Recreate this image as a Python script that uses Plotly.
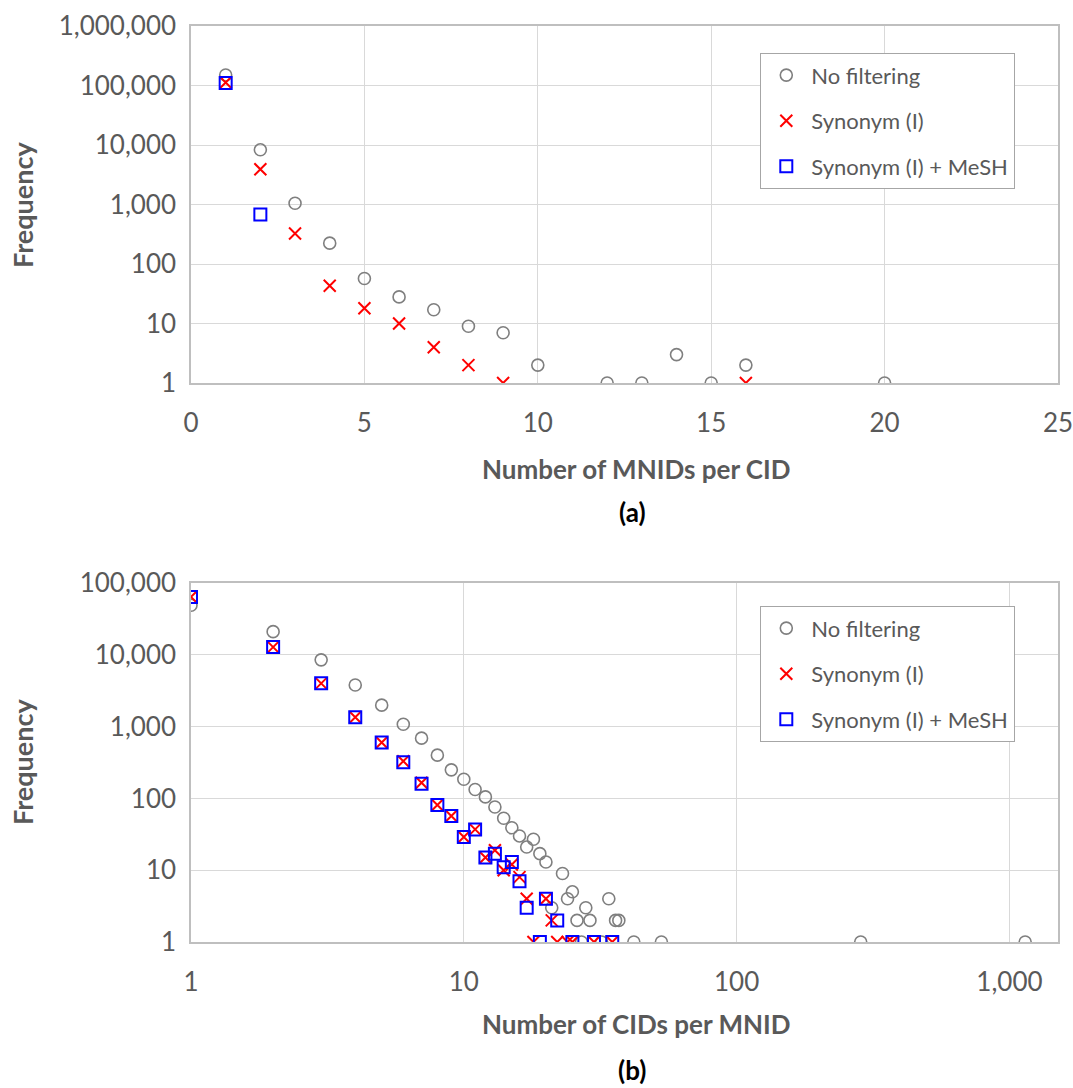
import plotly.graph_objects as go

# ---------------- Data ----------------
# Panel (a): Number of MNIDs per CID
a_nf_x = [1, 2, 3, 4, 5, 6, 7, 8, 9, 10, 12, 13, 14, 15, 16, 20]
a_nf_y = [150000, 8300, 1050, 224, 57, 28, 17, 9, 7, 2, 1, 1, 3, 1, 2, 1]
a_syn_x = [1, 2, 3, 4, 5, 6, 7, 8, 9, 16]
a_syn_y = [112000, 3900, 325, 43, 18, 10, 4, 2, 1, 1]
a_mesh_x = [1, 2]
a_mesh_y = [110000, 680]

# Panel (b): Number of CIDs per MNID
b_nf_x = [1, 2, 3, 4, 5, 6, 7, 8, 9, 10, 11, 12, 13, 14, 15, 16, 17, 18, 19, 20,
          21, 23, 24, 25, 26, 27, 28, 29, 32, 34, 36, 37, 42, 53, 285, 1142]
b_nf_y = [49000, 21000, 8500, 3800, 1990, 1080, 690, 400, 250, 185, 133, 105, 76, 53, 39, 30, 21, 27, 17, 13,
          3, 9, 4, 5, 2, 1, 3, 2, 1, 4, 2, 2, 1, 1, 1, 1]
b_syn_x = [1, 2, 3, 4, 5, 6, 7, 8, 9, 10, 11, 12, 13, 14, 15, 16, 17, 18, 20, 21, 22, 24, 25, 30, 35]
b_syn_y = [64000, 12800, 4000, 1350, 600, 330, 165, 81, 57, 29, 37, 15, 19, 10, 12, 8, 4, 1, 4, 2, 1, 1, 1, 1, 1]
b_mesh_x = [1, 2, 3, 4, 5, 6, 7, 8, 9, 10, 11, 12, 13, 14, 15, 16, 17, 19, 20, 22, 25, 30, 35]
b_mesh_y = [64000, 12800, 4000, 1350, 600, 320, 160, 81, 57, 29, 37, 15, 17, 11, 13, 7, 3, 1, 4, 2, 1, 1, 1]

series_names = ["No filtering", "Synonym (I)", "Synonym (I) + MeSH"]
y_tickvals = [1, 10, 100, 1000, 10000, 100000, 1000000]
y_ticktext = ["1", "10", "100", "1,000", "10,000", "100,000", "1,000,000"]
ax_tickvals = [0, 5, 10, 15, 20, 25]
bx_tickvals = [1, 10, 100, 1000]
bx_ticktext = ["1", "10", "100", "1,000"]

# ---------------- Styling ----------------
W, H = 1073, 1088
FONT = "Lato"
TXT = "#595959"
GRID = "#d9d9d9"
LINE = "#bfbfbf"

def px_x(p):
    return p / W

def px_y(p):
    return 1 - p / H

circle = dict(symbol="circle-open", size=12, color="#7f7f7f", line=dict(width=1.6, color="#7f7f7f"))
cross = dict(symbol="x-thin-open", size=12, color="#ff0000", line=dict(width=2, color="#ff0000"))
square = dict(symbol="square-open", size=12, color="#0000ff", line=dict(width=2, color="#0000ff"))

fig = go.Figure()

def add_panel(xs, ys, xa, ya, leg):
    styles = [circle, cross, square]
    for i, (x, y) in enumerate(zip(xs, ys)):
        fig.add_trace(go.Scatter(
            x=x, y=y, mode="markers", name=series_names[i], marker=styles[i],
            xaxis=xa, yaxis=ya, legend=leg, legendgroup=leg + str(i),
        ))

add_panel([a_nf_x, a_syn_x, a_mesh_x], [a_nf_y, a_syn_y, a_mesh_y], "x", "y", "legend")
add_panel([b_nf_x, b_syn_x, b_mesh_x], [b_nf_y, b_syn_y, b_mesh_y], "x2", "y2", "legend2")

axis_common = dict(
    showline=True, mirror=True, linecolor=LINE, linewidth=1.5,
    showgrid=True, gridcolor=GRID, gridwidth=1.3,
    zeroline=False, ticks="", automargin=False, ticklabeloverflow="allow",
    tickfont=dict(family=FONT, size=26, color=TXT),
)

xd = [px_x(191), px_x(1058)]

legend_common = dict(
    bgcolor="white", bordercolor="#a6a6a6", borderwidth=1.3,
    font=dict(family=FONT, size=22, color=TXT),
    xanchor="left", yanchor="top", tracegroupgap=14,
    traceorder="grouped", itemwidth=40,
    entrywidth=225, entrywidthmode="pixels",
)

fig.update_layout(
    width=W, height=H,
    margin=dict(l=0, r=0, t=0, b=0, autoexpand=False),
    paper_bgcolor="white", plot_bgcolor="white",
    showlegend=True,
    xaxis=dict(domain=xd, anchor="y", range=[0, 25], tickvals=ax_tickvals, ticklabelstandoff=16, **axis_common),
    yaxis=dict(domain=[px_y(383), px_y(26)], anchor="x", type="log", range=[0, 6],
               tickvals=y_tickvals, ticktext=y_ticktext, ticklabelstandoff=8, **axis_common),
    xaxis2=dict(domain=xd, anchor="y2", type="log", range=[0, 3.178],
                tickvals=bx_tickvals, ticktext=bx_ticktext, ticklabelstandoff=16, **axis_common),
    yaxis2=dict(domain=[px_y(942), px_y(583)], anchor="x2", type="log", range=[0, 5],
                tickvals=y_tickvals[:6], ticktext=y_ticktext[:6], ticklabelstandoff=8, **axis_common),
    legend=dict(x=px_x(760), y=px_y(53), **legend_common),
    legend2=dict(x=px_x(760), y=px_y(606), **legend_common),
)

def ann(text, x, y, size=26, color=TXT, angle=0):
    fig.add_annotation(
        text=f"<b>{text}</b>",
        x=px_x(x), y=px_y(y), xref="paper", yref="paper",
        showarrow=False, textangle=angle,
        font=dict(family=FONT, size=size, color=color),
        xanchor="center", yanchor="middle",
    )

ann("Number of MNIDs per CID", 636, 469)
ann("(a)", 632, 512, color="#000000")
ann("Frequency", 22, 205, size=27, angle=-90)
ann("Number of CIDs per MNID", 636, 1024)
ann("(b)", 632, 1070, color="#000000")
ann("Frequency", 22, 762, size=27, angle=-90)

fig.write_html(
    "out.html",
    config={"displayModeBar": False},
    post_script="document.body.style.margin='0';document.body.style.overflow='hidden';",
)
